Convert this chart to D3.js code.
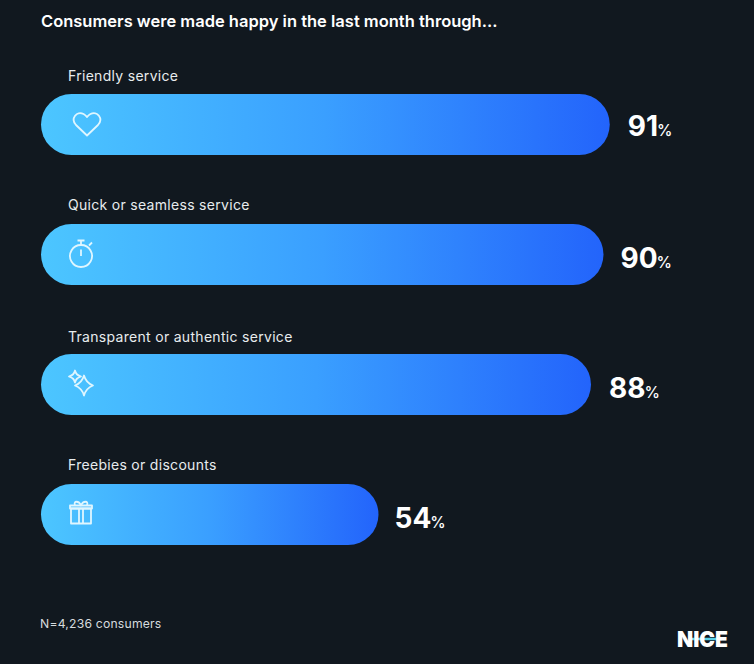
<!DOCTYPE html>
<html>
<head>
<meta charset="utf-8">
<script src="https://cdn.jsdelivr.net/npm/d3@7"></script>
<style>
  html, body { margin: 0; padding: 0; background: #11181f; }
  svg { display: block; }
  text { font-family: Inter, "Noto Sans", sans-serif; fill: #fff; }
</style>
</head>
<body>
<script>
(function () {

    /*********************************************
    Data
    *********************************************/
    var categories = ["Friendly service", "Quick or seamless service", "Transparent or authentic service", "Freebies or discounts"];
    var values = [91, 90, 88, 54];
    var icons = ["heart", "watch", "sparkle", "gift"];
    var title = "Consumers were made happy in the last month through...";
    var note = "N=4,236 consumers";

    /*********************************************
    Setup
    *********************************************/
    var width = 754, height = 664;

    var svg = d3.select("body").append("svg")
        .attr("width", width)
        .attr("height", height);

    svg.append("rect").attr("width", width).attr("height", height).attr("fill", "#11181f");

    var x = d3.scaleLinear().domain([0, 100]).range([41, 666]);
    var y = d3.scaleBand().domain(categories).range([94, 545]).paddingInner(69 / 130).paddingOuter(0);

    var grad = svg.append("defs").append("linearGradient").attr("id", "barFill");
    grad.append("stop").attr("offset", "0%").attr("stop-color", "#4cc6ff");
    grad.append("stop").attr("offset", "50%").attr("stop-color", "#3a9fff");
    grad.append("stop").attr("offset", "100%").attr("stop-color", "#2364fb");

    svg.append("text").attr("x", 41).attr("y", 27)
        .attr("font-size", 16.5).attr("font-weight", 600).text(title);

    // small per-row nudges seen in the reference
    var labelDy = [0, -1, 1, -1];
    var valueDx = [18, 17, 18, 16];
    var valueDy = [0, 2, 2, 2];

    var rows = svg.selectAll("g.row").data(categories).enter().append("g")
        .attr("class", "row");

    rows.append("text")
        .attr("x", 68)
        .attr("y", function (d, i) { return y(d) - 13 + labelDy[i]; })
        .attr("font-size", 14)
        .attr("letter-spacing", 0.3)
        .style("fill", "#e8ecee")
        .text(function (d) { return d; });

    rows.append("rect")
        .attr("x", x(0))
        .attr("y", function (d) { return y(d); })
        .attr("width", function (d, i) { return x(values[i]) - x(0); })
        .attr("height", y.bandwidth())
        .attr("rx", y.bandwidth() / 2)
        .attr("fill", "url(#barFill)");

    var labels = rows.append("text")
        .attr("x", function (d, i) { return x(values[i]) + valueDx[i]; })
        .attr("y", function (d, i) { return y(d) + y.bandwidth() / 2 + 11 + valueDy[i]; })
        .attr("font-weight", 700);
    labels.append("tspan").attr("font-size", 28).text(function (d, i) { return values[i]; });
    labels.append("tspan").attr("font-size", 15.5).attr("font-weight", 500).attr("dx", -1).text("%");

    /*********************************************
    Icons, drawn around the middle of each bar's cap
    *********************************************/
    var iconPaths = {
        heart: ["M0 12 L-11 1.5 C-17 -5 -10 -13 -3.5 -9.5 C-2 -8.7 -1 -7.5 0 -6.5 C1 -7.5 2 -8.7 3.5 -9.5 C10 -13 17 -5 11 1.5 Z"],
        watch: ["M0 -8.5 A11 11 0 1 0 0.01 -8.5 Z", "M0 2.5 L0 -4", "M-3.5 -13 L3.5 -13 M0 -13 L0 -8.5", "M8 -8 L11 -11"],
        sparkle: ["M-7 -13 C-6 -9.5 -5 -8.5 -1 -7 C-5 -5.5 -6 -4.5 -7 -1 C-8 -4.5 -9 -5.5 -13 -7 C-9 -8.5 -8 -9.5 -7 -13 Z",
            "M2 -8 C3.5 -2.5 6 0 11 2 C6 4 3.5 6.5 2 12 C0.5 6.5 -2 4 -7 2 C-2 0 0.5 -2.5 2 -8 Z"],
        gift: ["M-10 -5 L10 -5 L10 10 L-10 10 Z", "M-11 -8 L11 -8 L11 -5 L-11 -5 Z", "M-2 -5 L-2 10 M2 -5 L2 10",
            "M-6 -8 C-8 -13 -2 -13 0 -8 C2 -13 8 -13 6 -8"]
    };
    var iconX = [87, 81, 82, 81];

    rows.each(function (d, i) {
        var g = d3.select(this).append("g")
            .attr("transform", "translate(" + iconX[i] + "," + (y(d) + y.bandwidth() / 2 - 1) + ")");
        g.selectAll("path").data(iconPaths[icons[i]]).enter().append("path")
            .attr("d", function (p) { return p; })
            .attr("fill", "none")
            .attr("stroke", "#dff6ff")
            .attr("stroke-width", 1.8)
            .attr("stroke-linejoin", "round");
    });

    svg.append("text").attr("x", 40).attr("y", 628)
        .attr("font-size", 12.2).attr("letter-spacing", 0.2).style("fill", "#d6dbde").text(note);

    /*********************************************
    Logo
    *********************************************/
    var logo = svg.append("g");
    logo.append("line").attr("x1", 688).attr("x2", 722).attr("y1", 639).attr("y2", 639)
        .attr("stroke", "#58cfe6").attr("stroke-width", 2.5);
    logo.append("text").attr("x", 677).attr("y", 647)
        .attr("font-size", 22).attr("font-weight", 900).attr("textLength", 51)
        .attr("lengthAdjust", "spacingAndGlyphs").text("NICE");

}());
</script>
</body>
</html>
